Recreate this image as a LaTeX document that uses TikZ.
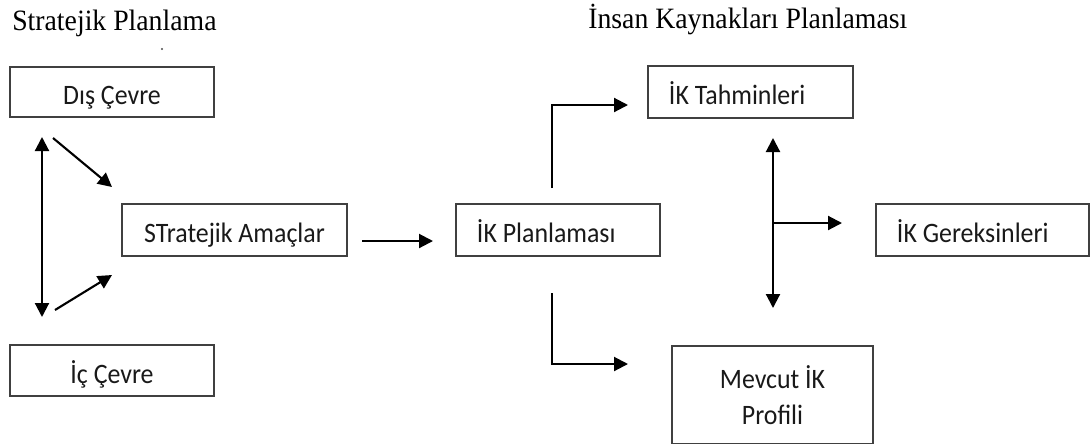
\documentclass[tikz,border=0pt]{standalone}
\usepackage{fontspec}
\setmainfont[FakeStretch=0.94]{Liberation Serif}
\newfontfamily\boxfont[FakeStretch=0.92]{Carlito}
\usetikzlibrary{arrows.meta}

\begin{document}
\begin{tikzpicture}[
    x=0.025cm, y=-0.025cm,
    box/.style={rectangle, draw=black!75, line width=1.4pt, minimum height=1.3cm, inner sep=0pt, text height=0.65cm, text depth=0.025cm, font=\boxfont\fontsize{20}{26}\selectfont, text=black!90, execute at begin node={\spaceskip=0pt\xspaceskip=0pt}},
    ikbox/.style={box, text width=#1, align=left, inner xsep=0.525cm},
    title/.style={anchor=base west, inner sep=0pt, font=\fontsize{21}{25}\selectfont},
    arrow/.style={-{Triangle[length=3.5mm, width=3.5mm]}, line width=1.5pt},
    both/.style={{Triangle[length=3.5mm, width=3.5mm]}-{Triangle[length=3.5mm, width=3.5mm]}, line width=1.5pt}
]
\useasboundingbox (0,0) rectangle (1091,443);

% Titles
\node[title] (sp-title) at (12,30) {Stratejik Planlama};
\node[title] (ikp-title) at (588,28) {İnsan Kaynakları Planlaması};
\fill[black!70] (162,49) circle[radius=0.03cm];

% Left side: strategic planning
\node[box, minimum width=5.1cm, minimum height=1.25cm] (dis) at (112,92) {Dış Çevre};
\node[box, minimum width=5.1cm, minimum height=1.275cm] (ic) at (112,370.5) {İç Çevre};
\node[box, minimum width=5.625cm] (amac) at (234.5,230) {STratejik Amaçlar};

% Right side: HR planning
\node[ikbox=4.05cm] (ikp) at (558,230) {İK Planlaması};
\node[ikbox=4.075cm] (tahmin) at (750.5,92) {İK Tahminleri};
\node[ikbox=4.275cm] (gerek) at (982.5,230) {İK Gereksinleri};
\node[box, minimum width=5.025cm, minimum height=2.45cm, text height=, text depth=, align=center] (mevcut) at (772.5,395) {Mevcut İK\\Profili};

% Free ends of the arrows
\coordinate (lv-top) at (42,137);
\coordinate (lv-bot) at (42,317);
\coordinate (dis-from) at (53,138);
\coordinate (dis-to) at (112,187);
\coordinate (ic-from) at (55,310);
\coordinate (ic-to) at (112,275);
\coordinate (amac-out) at (362,241);
\coordinate (ikp-in) at (433,241);
\coordinate (up-from) at (552,188);
\coordinate (up-to) at (628,105);
\coordinate (down-from) at (552,293);
\coordinate (down-to) at (628,364);
\coordinate (rv-top) at (773,138);
\coordinate (rv-bot) at (773,308);
\coordinate (branch) at (773,223);
\coordinate (branch-to) at (842,223);

% Left arrows
\draw[both] (lv-top) -- (lv-bot);
\draw[arrow] (dis-from) -- (dis-to);
\draw[arrow] (ic-from) -- (ic-to);
\draw[arrow] (amac-out) -- (ikp-in);

% Right arrows
\draw[arrow] (up-from) |- (up-to);
\draw[arrow] (down-from) |- (down-to);
\draw[both] (rv-top) -- (rv-bot);
\draw[arrow] (branch) -- (branch-to);

\end{tikzpicture}
\end{document}
